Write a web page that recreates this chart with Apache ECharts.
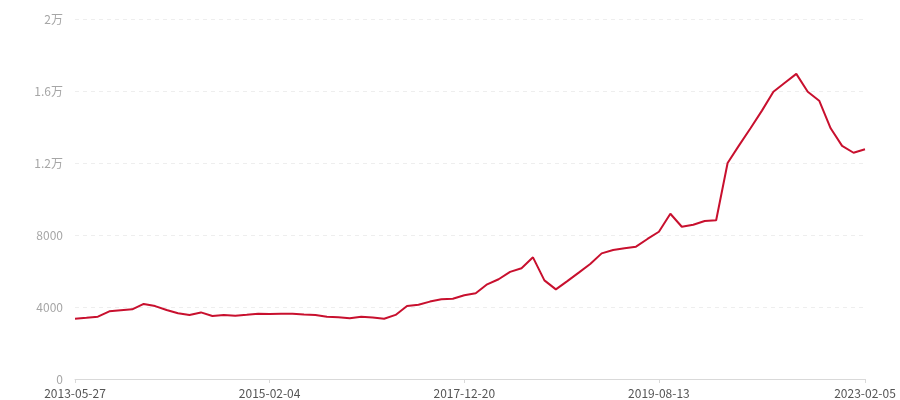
<!DOCTYPE html>
<html>
<head>
<meta charset="utf-8">
<script src="https://cdn.jsdelivr.net/npm/echarts@6/dist/echarts.min.js"></script>
<style>
  html, body { margin: 0; padding: 0; background: #fff; }
  #priceChart { width: 900px; height: 400px; }
</style>
</head>
<body>
<div id="priceChart"></div>
<script>
// x axis dates
var dates = [
  '2013-05-27', '2013-06-25', '2013-07-26', '2013-08-27', '2013-09-26', '2013-10-28', '2013-11-26', '2013-12-27',
  '2014-01-27', '2014-03-04', '2014-04-03', '2014-05-06', '2014-06-05', '2014-07-08', '2014-08-06', '2014-09-10',
  '2014-11-05', '2015-02-04', '2015-04-08', '2015-06-10', '2015-08-05', '2015-10-14', '2015-12-09', '2016-02-03',
  '2016-04-06', '2016-06-08', '2016-08-03', '2016-09-28', '2016-11-23', '2017-01-18', '2017-03-22', '2017-05-24',
  '2017-07-19', '2017-09-20', '2017-12-20', '2018-01-24', '2018-02-28', '2018-03-28', '2018-04-25', '2018-05-30',
  '2018-06-27', '2018-07-25', '2018-08-29', '2018-09-26', '2018-10-31', '2018-11-28', '2018-12-26', '2019-01-30',
  '2019-02-27', '2019-04-03', '2019-05-29', '2019-08-13', '2019-10-16', '2019-12-11', '2020-02-12', '2020-04-15',
  '2020-06-10', '2020-08-12', '2020-10-14', '2020-12-16', '2021-02-17', '2021-04-14', '2021-06-16', '2021-08-18',
  '2021-10-20', '2021-12-15', '2022-03-16', '2022-06-15', '2022-10-12', '2023-02-05'
]
// price values
var prices = [
  3350, 3400, 3460, 3760, 3820, 3870, 4170, 4050, 3830, 3650, 3560, 3700, 3500, 3560,
  3520, 3570, 3630, 3610, 3630, 3630, 3590, 3560, 3460, 3430, 3370, 3460, 3420, 3350,
  3560, 4060, 4130, 4300, 4430, 4460, 4650, 4760, 5260, 5540, 5950, 6150, 6760, 5480,
  4980, 5440, 5910, 6390, 6980, 7170, 7260, 7350, 7780, 8180, 9180, 8460, 8570, 8780,
  8820, 12000, 12980, 13930, 14910, 15960, 16460, 16950, 15960, 15460, 13930, 12950,
  12570, 12760
]
// which categories get a label
var labelIndexes = [0, 17, 34, 51, 69]

function showLabel (idx) {
  return labelIndexes.indexOf(idx) > -1
}

var chart = echarts.init(document.getElementById('priceChart'))
var option = {
  animation: false,
  textStyle: { fontFamily: 'Noto Sans CJK SC, Noto Sans, sans-serif' },
  grid: { left: 75, right: 35, top: 19, bottom: 21 },
  xAxis: {
    type: 'category',
    boundaryGap: false,
    data: dates,
    axisLine: { lineStyle: { color: '#d9d9d9' } },
    axisTick: { interval: showLabel, length: 4, lineStyle: { color: '#d9d9d9' } },
    axisLabel: { interval: showLabel, color: '#555', fontSize: 12, margin: 8 }
  },
  yAxis: {
    type: 'value',
    min: 0,
    max: 20000,
    interval: 4000,
    axisLine: { show: false },
    axisTick: { show: false },
    axisLabel: {
      color: '#a6a6a6',
      fontSize: 12,
      margin: 12,
      formatter: function (v) {
        return v >= 10000 ? (v / 10000) + '万' : v
      }
    },
    splitLine: { lineStyle: { color: '#eeeeee', type: [4, 4] } }
  },
  series: [
    {
      type: 'line',
      data: prices,
      showSymbol: false,
      lineStyle: { color: '#c8102e', width: 2 },
      itemStyle: { color: '#c8102e' }
    }
  ]
}
chart.setOption(option, true)
</script>
</body>
</html>
